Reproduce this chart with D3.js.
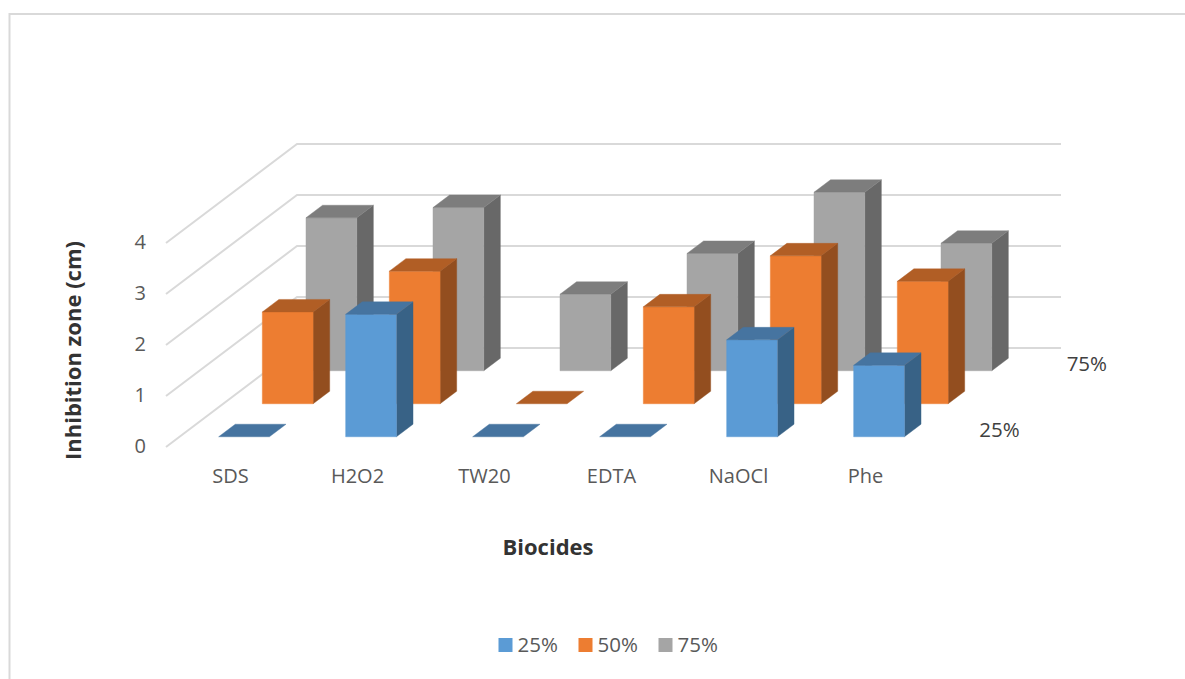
<!DOCTYPE html>
<html>
<head>
<meta charset="utf-8">
<script src="https://cdn.jsdelivr.net/npm/d3@7/dist/d3.min.js"></script>
<style>
  html, body { margin: 0; padding: 0; background: #fff; }
  svg { display: block; }
  text { font-family: "Open Sans", sans-serif; }
</style>
</head>
<body>
<div id="chart"></div>
<script>
// Inhibition zone per biocide and concentration
const biocides = ["SDS", "H2O2", "TW20", "EDTA", "NaOCl", "Phe"];
const seriesNames = ["25%", "50%", "75%"];
const values25 = [0, 2.4, 0, 0, 1.9, 1.4];
const values50 = [1.8, 2.6, 0, 1.9, 2.9, 2.4];
const values75 = [3.0, 3.2, 1.5, 2.3, 3.5, 2.5];
const yTicks = [0, 1, 2, 3, 4];
const frontColors = ["#5B9BD5", "#ED7D31", "#A5A5A5"];
const topColors = ["#4674A0", "#B15E25", "#7D7D7D"];
const sideColors = ["#386286", "#934E1F", "#686868"];
const seriesValues = [values25, values50, values75];

const width = 1185, height = 679;
const svg = d3.select("#chart").append("svg").attr("width", width).attr("height", height);

// Oblique projection: value goes up, depth slides the point up and to the right
const x = d3.scaleBand().domain(biocides).range([167, 929]).paddingInner(0.6).paddingOuter(0.3);
const y = d3.scaleLinear().domain([0, 4]).range([447, 243]);
const depthX = d3.scaleLinear().domain([0, 3]).range([0, 131]);
const depthY = d3.scaleLinear().domain([0, 3]).range([0, -99]);
const project = (px, value, depth) => [px + depthX(depth), y(value) + depthY(depth)];
const poly = pts => pts.map(p => p.join(",")).join(" ");

// Chart frame, open on the right and at the bottom
svg.append("path")
  .attr("d", `M9.5,${height}V14H${width}`)
  .attr("fill", "none").attr("stroke", "#D9D9D9").attr("stroke-width", 2);

// Side wall and back wall gridlines
svg.append("g").selectAll("polyline").data(yTicks).join("polyline")
  .attr("points", d => poly([
    project(166, d, 0),
    project(166, d, 3),
    project(x.range()[1] + 1, d, 3)
  ]))
  .attr("fill", "none").attr("stroke", "#D9D9D9").attr("stroke-width", 2);

// Bars, far row first so nearer rows overlap it
const barDepthStart = 0.31, barDepthEnd = 0.69;
[2, 1, 0].forEach(s => {
  const row = svg.append("g");
  biocides.forEach((name, i) => {
    const v = seriesValues[s][i];
    const x0 = x(name), x1 = x0 + x.bandwidth();
    const z0 = s + barDepthStart, z1 = s + barDepthEnd;
    const face = (pts, fill) => row.append("polygon")
      .attr("points", poly(pts)).attr("fill", fill)
      .attr("stroke", fill).attr("stroke-width", 0.4);
    if (v > 0) {
      face([project(x1, 0, z0), project(x1, 0, z1), project(x1, v, z1), project(x1, v, z0)], sideColors[s]);
      face([project(x0, 0, z0), project(x1, 0, z0), project(x1, v, z0), project(x0, v, z0)], frontColors[s]);
    }
    face([project(x0, v, z0), project(x1, v, z0), project(x1, v, z1), project(x0, v, z1)], topColors[s]);
  });
});

// Value axis labels
const yAxis = svg.append("g").attr("transform", "translate(146,-1)")
  .call(d3.axisLeft(y).tickValues(yTicks).tickSize(0).tickPadding(0).tickFormat(d3.format("d")));
yAxis.select(".domain").remove();
yAxis.selectAll("text").attr("font-size", 20).attr("fill", "#595959")
  .style("font-family", '"Open Sans", sans-serif');

// Category axis labels
const xAxis = svg.append("g").attr("transform", "translate(0,469)")
  .call(d3.axisBottom(x).tickSize(0).tickPadding(0));
xAxis.select(".domain").remove();
xAxis.selectAll("text").attr("font-size", 20).attr("fill", "#595959")
  .style("font-family", '"Open Sans", sans-serif');

// Depth axis labels, first and last series only
[0, 2].forEach(s => {
  const z = s + 0.5;
  svg.append("text")
    .attr("x", 999.5 + depthX(z) - depthX(0.5))
    .attr("y", 437 + depthY(z) - depthY(0.5))
    .attr("text-anchor", "middle")
    .attr("font-size", 20.5).attr("fill", "#404040")
    .text(seriesNames[s]);
});

// Axis titles
svg.append("text").attr("x", 548).attr("y", 555)
  .attr("text-anchor", "middle").attr("font-size", 22).attr("font-weight", 700).attr("fill", "#333")
  .text("Biocides");
svg.append("text").attr("transform", "translate(80.5,350.5) rotate(-90)")
  .attr("text-anchor", "middle").attr("font-size", 22).attr("font-weight", 700).attr("fill", "#333")
  .text("Inhibition zone (cm)");

// Legend
const legendX = [498.5, 578.5, 658.5];
const legend = svg.append("g").selectAll("g").data(seriesNames).join("g")
  .attr("transform", (d, i) => `translate(${legendX[i]},638)`);
legend.append("rect").attr("width", 14).attr("height", 14).attr("fill", (d, i) => frontColors[i]);
legend.append("text").attr("x", 19).attr("y", 14)
  .attr("font-size", 20.5).attr("fill", "#595959").text(d => d);
</script>
</body>
</html>
